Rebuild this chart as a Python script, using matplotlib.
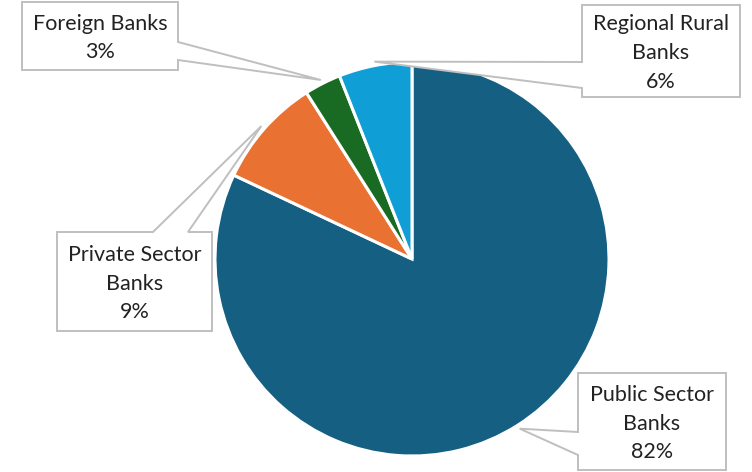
import numpy as np
import matplotlib
matplotlib.use("Agg")
import matplotlib.pyplot as plt
from matplotlib.patches import Polygon

# bank group shares (%)
categories = ["Public Sector\nBanks", "Private Sector\nBanks", "Foreign Banks", "Regional Rural\nBanks"]
shares = [82, 9, 3, 6]
colors = ["#156082", "#E97132", "#196B24", "#0F9ED5"]

W, H = 752, 472
CENTER = (412, 259)   # pixel coords, y measured from top
RADIUS = 197

# callout boxes: (x0, y0, x1, y1) in pixels, edge where the pointer leaves, pointer base span
boxes = [
    ((578, 373, 726, 470), "left", (432, 455)),
    ((57, 232, 212, 331), "top", (153, 188)),
    ((22, 2, 178, 70), "right", (42, 60)),
    ((582, 5, 740, 97), "left", (62, 88)),
]


def px(x, y):
    return x, H - y


def callout(ax, box, edge, span, tip, text):
    x0, y0, x1, y1 = box
    a, b = span
    if edge == "top":
        pts = [(x0, y0), (a, y0), tip, (b, y0), (x1, y0), (x1, y1), (x0, y1)]
    elif edge == "right":
        pts = [(x0, y0), (x1, y0), (x1, a), tip, (x1, b), (x1, y1), (x0, y1)]
    elif edge == "bottom":
        pts = [(x0, y0), (x1, y0), (x1, y1), (b, y1), tip, (a, y1), (x0, y1)]
    else:
        pts = [(x0, y0), (x1, y0), (x1, y1), (x0, y1), (x0, b), tip, (x0, a)]
    poly = Polygon([px(*p) for p in pts], closed=True, facecolor="white",
                   edgecolor="#BFBFBF", linewidth=1.4, zorder=3)
    ax.add_patch(poly)
    ax.text(*px((x0 + x1) / 2, (y0 + y1) / 2 + 2), text, ha="center", va="center",
            fontsize=15.5, color="#222222", linespacing=1.55, zorder=4,
            family=["Lato", "DejaVu Sans"])


fig = plt.figure(figsize=(W / 100, H / 100), dpi=100)
ax = fig.add_axes([0, 0, 1, 1])

ax.pie(shares, colors=colors, startangle=90, counterclock=False,
       radius=RADIUS, center=px(*CENTER),
       wedgeprops=dict(edgecolor="white", linewidth=2.2))
ax.set_xlim(0, W)
ax.set_ylim(0, H)
ax.set_aspect("equal")
ax.axis("off")

# pointer tips sit just outside the rim at each wedge's mid angle
total = sum(shares)
start = 90.0
for cat, val, (box, edge, span) in zip(categories, shares, boxes):
    sweep = 360.0 * val / total
    mid = np.deg2rad(start - sweep / 2)
    start -= sweep
    tx = CENTER[0] + 1.02 * RADIUS * np.cos(mid)
    ty = CENTER[1] - 1.02 * RADIUS * np.sin(mid)
    pct = round(100 * val / total)
    callout(ax, box, edge, span, (tx, ty), f"{cat}\n{pct}%")

fig.savefig("out.png", dpi=100)
